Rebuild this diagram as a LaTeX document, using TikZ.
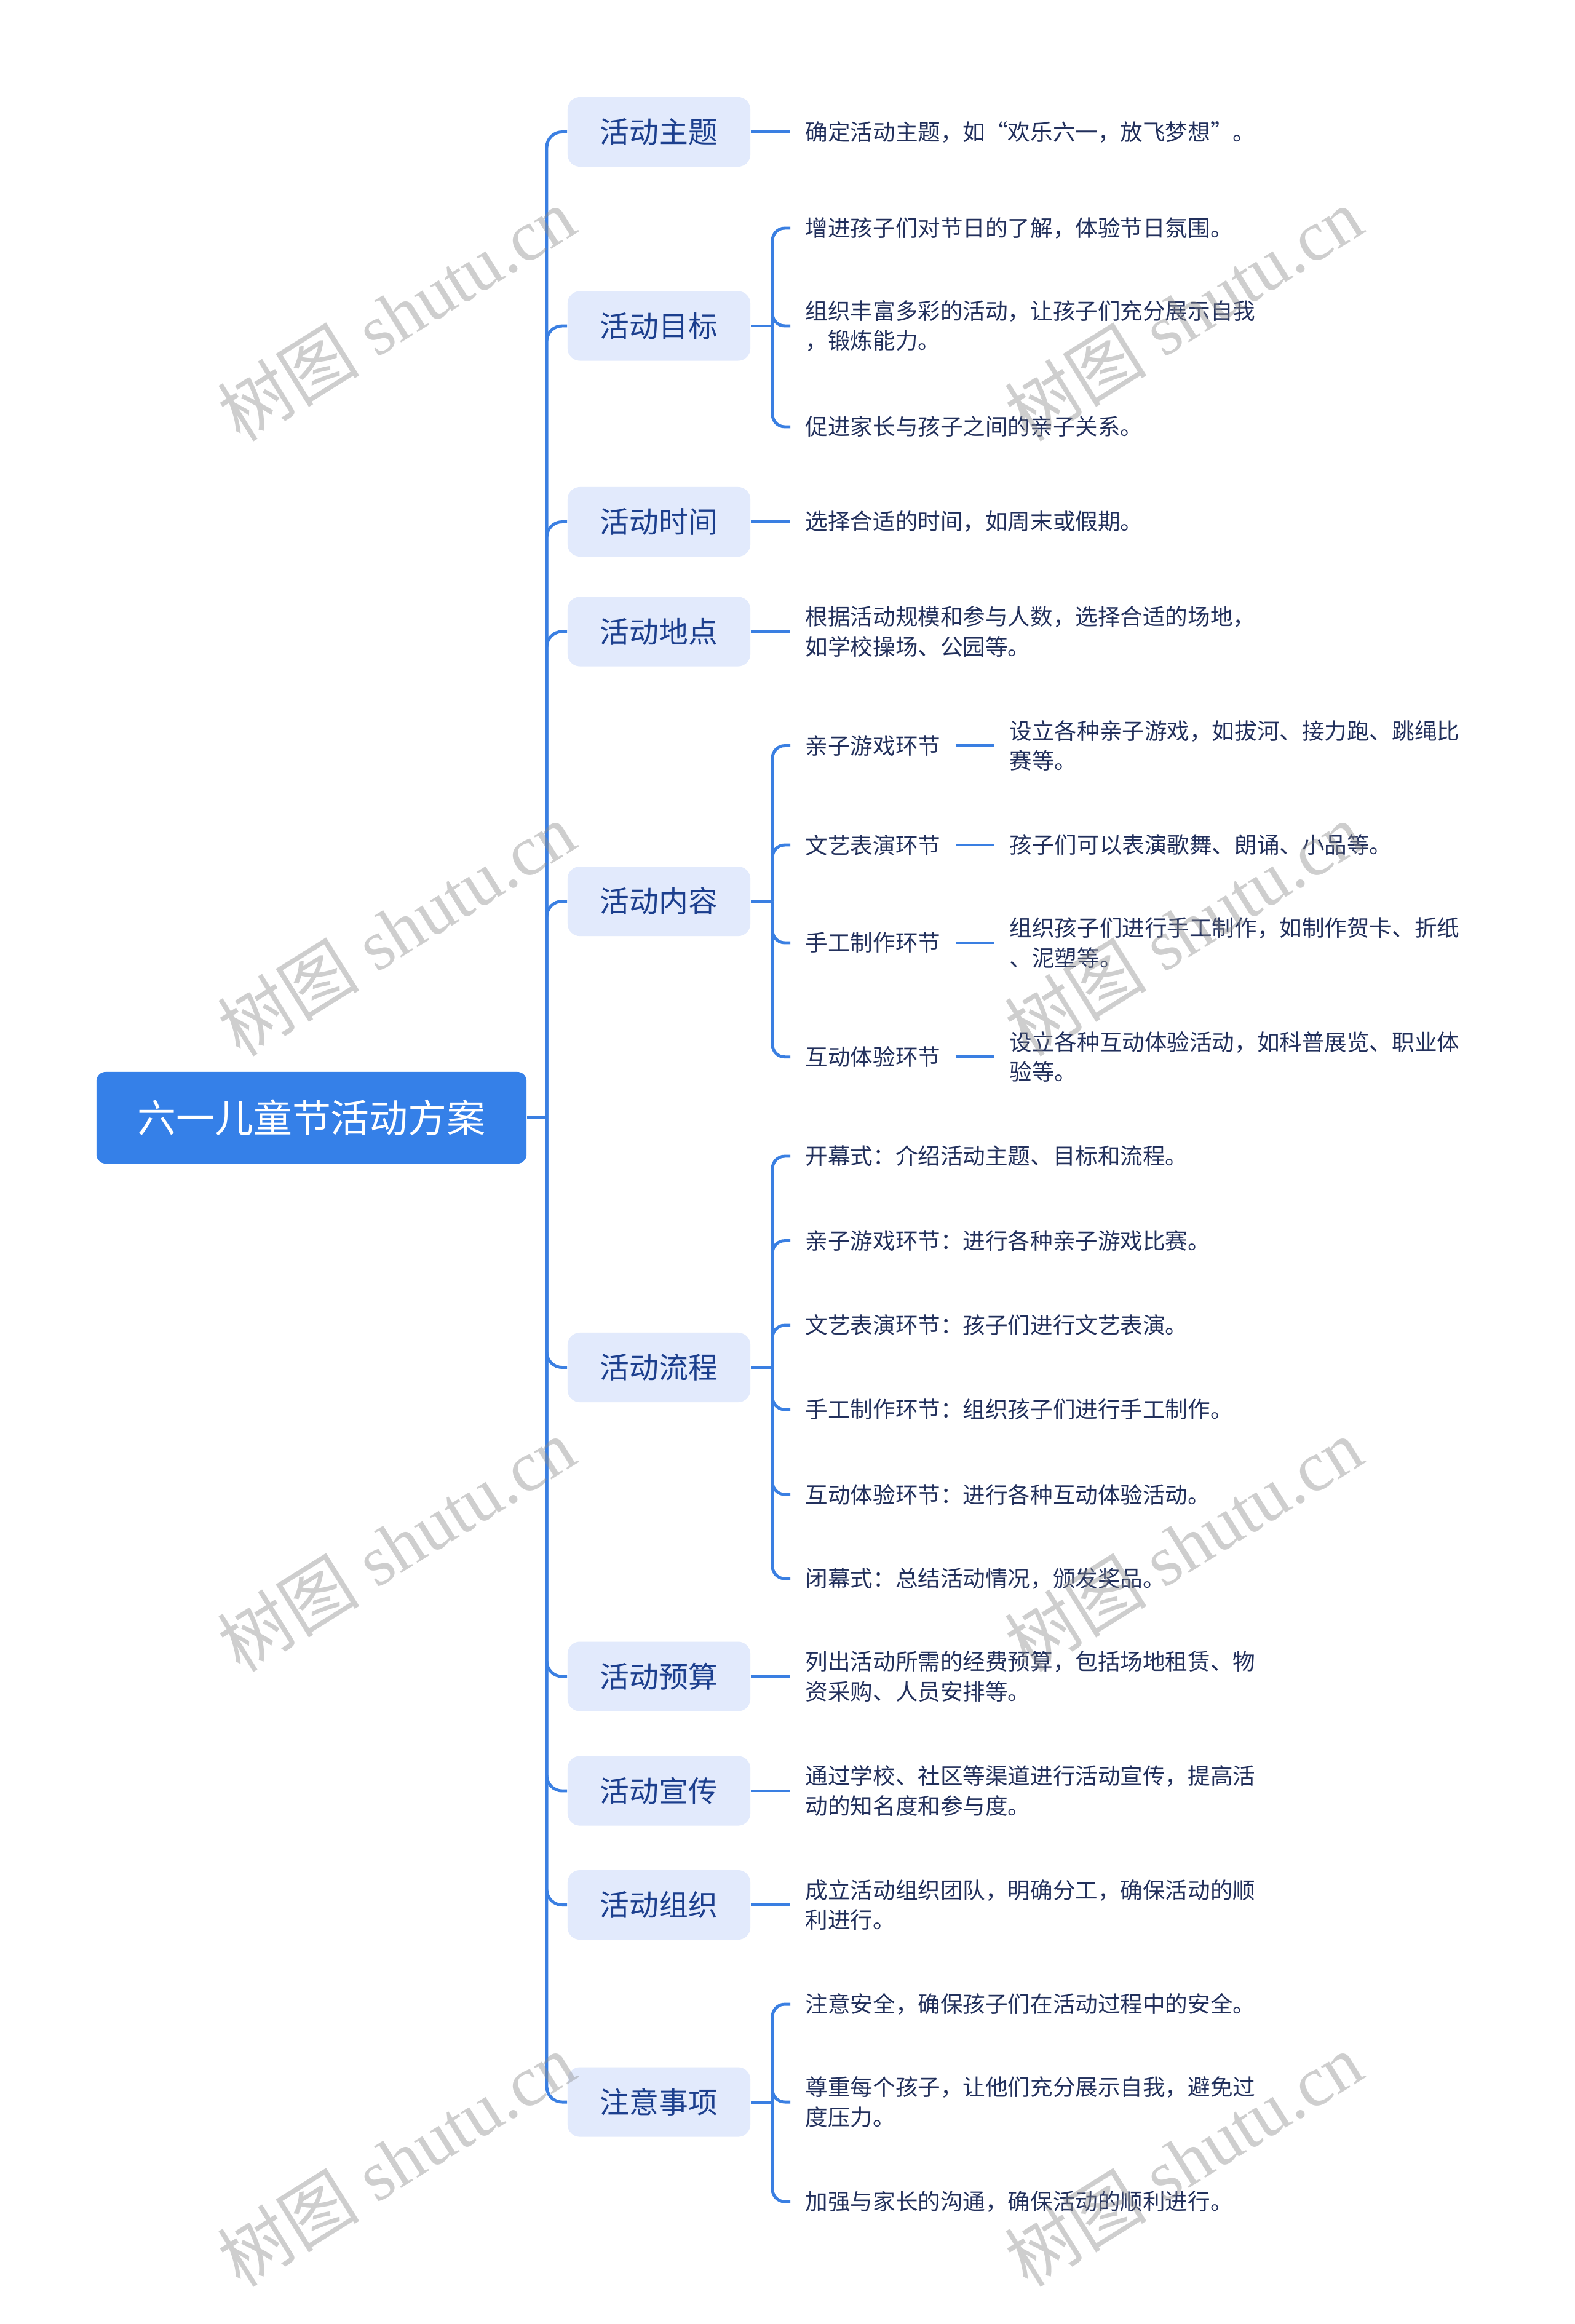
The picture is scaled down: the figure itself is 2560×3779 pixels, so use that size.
\documentclass[tikz,border=0pt]{standalone}
\usepackage{fontspec}
\setmainfont{Noto Sans CJK SC}
\newfontfamily\wmlat{Liberation Serif}
\newfontfamily\wmcjk{Noto Sans CJK SC}
\definecolor{rootblue}{HTML}{3580E8}
\definecolor{linec}{HTML}{3A7FE2}
\definecolor{brfill}{HTML}{E2EAFC}
\definecolor{brtext}{HTML}{1C3F8E}
\definecolor{leaftext}{HTML}{22305C}
\tikzset{
  x=0.01cm, y=-0.01cm,
  rootbox/.style={fill=rootblue, text=white, rounded corners=0.15cm,
    minimum width=6.99cm, minimum height=1.49cm, inner sep=0pt,
    font=\fontsize{17.9}{20}\selectfont},
  brbox/.style={fill=brfill, text=brtext, rounded corners=0.2cm,
    minimum width=2.97cm, minimum height=1.13cm, inner sep=0pt,
    font=\fontsize{13.6}{16}\selectfont},
  leafbox/.style={anchor=west, text=leaftext, align=left, inner xsep=0.24cm,
    inner ysep=2pt, font=\fontsize{10.4}{13.7}\selectfont},
  conn/.style={draw=linec, line width=1.4pt},
  mainarc/.style={conn, rounded corners=0.25cm},
  subarc/.style={conn, rounded corners=0.2cm},
  wm/.style={text=black!45, opacity=0.42, rotate=32, inner sep=0pt}
}
\begin{document}
\begin{tikzpicture}
\useasboundingbox (0,0) rectangle (2560,3779);
\fill[white] (0,0) rectangle (2560,3779);

% root
\node[rootbox] (root) at (506.5,1817.5) {六一儿童节活动方案};
\coordinate (rj) at (889,1817.5);

% level 1
\node[brbox] (b1) at (1071.5,214.5) {活动主题};
\node[brbox] (b2) at (1071.5,530) {活动目标};
\node[brbox] (b3) at (1071.5,848.5) {活动时间};
\node[brbox] (b4) at (1071.5,1027) {活动地点};
\node[brbox] (b5) at (1071.5,1465.6) {活动内容};
\node[brbox] (b6) at (1071.5,2223.5) {活动流程};
\node[brbox] (b7) at (1071.5,2726) {活动预算};
\node[brbox] (b8) at (1071.5,2912) {活动宣传};
\node[brbox] (b9) at (1071.5,3097.5) {活动组织};
\node[brbox] (b10) at (1071.5,3418) {注意事项};

\draw[conn] (root.east) -- (rj);
\foreach \b in {b1,b2,b3,b4,b5,b6,b7,b8,b9,b10}
  \draw[mainarc] (rj) |- (\b.west);

% leaves
\node[leafbox] (l1) at (1285,214.5) {确定活动主题，如“欢乐六一，放飞梦想”。};
\node[leafbox] (l2a) at (1285,371) {增进孩子们对节日的了解，体验节日氛围。};
\node[leafbox] (l2b) at (1285,530) {组织丰富多彩的活动，让孩子们充分展示自我\\，锻炼能力。};
\node[leafbox] (l2c) at (1285,694) {促进家长与孩子之间的亲子关系。};
\node[leafbox] (l3) at (1285,848.5) {选择合适的时间，如周末或假期。};
\node[leafbox] (l4) at (1285,1027) {根据活动规模和参与人数，选择合适的场地，\\如学校操场、公园等。};

\node[leafbox] (m1) at (1285,1212.5) {亲子游戏环节};
\node[leafbox] (m2) at (1285,1374) {文艺表演环节};
\node[leafbox] (m3) at (1285,1533) {手工制作环节};
\node[leafbox] (m4) at (1285,1718.7) {互动体验环节};
\node[leafbox] (s1) at (1617,1212.5) {设立各种亲子游戏，如拔河、接力跑、跳绳比\\赛等。};
\node[leafbox] (s2) at (1617,1374) {孩子们可以表演歌舞、朗诵、小品等。};
\node[leafbox] (s3) at (1617,1533) {组织孩子们进行手工制作，如制作贺卡、折纸\\、泥塑等。};
\node[leafbox] (s4) at (1617,1718.7) {设立各种互动体验活动，如科普展览、职业体\\验等。};

\node[leafbox] (l6a) at (1285,1880) {开幕式：介绍活动主题、目标和流程。};
\node[leafbox] (l6b) at (1285,2017.5) {亲子游戏环节：进行各种亲子游戏比赛。};
\node[leafbox] (l6c) at (1285,2155) {文艺表演环节：孩子们进行文艺表演。};
\node[leafbox] (l6d) at (1285,2292) {手工制作环节：组织孩子们进行手工制作。};
\node[leafbox] (l6e) at (1285,2430) {互动体验环节：进行各种互动体验活动。};
\node[leafbox] (l6f) at (1285,2567) {闭幕式：总结活动情况，颁发奖品。};

\node[leafbox] (l7) at (1285,2726) {列出活动所需的经费预算，包括场地租赁、物\\资采购、人员安排等。};
\node[leafbox] (l8) at (1285,2912) {通过学校、社区等渠道进行活动宣传，提高活\\动的知名度和参与度。};
\node[leafbox] (l9) at (1285,3097.5) {成立活动组织团队，明确分工，确保活动的顺\\利进行。};

\node[leafbox] (l10a) at (1285,3259) {注意安全，确保孩子们在活动过程中的安全。};
\node[leafbox] (l10b) at (1285,3418) {尊重每个孩子，让他们充分展示自我，避免过\\度压力。};
\node[leafbox] (l10c) at (1285,3580) {加强与家长的沟通，确保活动的顺利进行。};

% single-child connectors
\draw[conn] (b1.east) -- (l1.west);
\draw[conn] (b3.east) -- (l3.west);
\draw[conn] (b4.east) -- (l4.west);
\draw[conn] (b7.east) -- (l7.west);
\draw[conn] (b8.east) -- (l8.west);
\draw[conn] (b9.east) -- (l9.west);

% multi-child connectors
\coordinate (j2) at (1256,530);
\draw[conn] (b2.east) -- (j2);
\foreach \l in {l2a,l2b,l2c} \draw[subarc] (j2) |- (\l.west);

\coordinate (j5) at (1256,1465.6);
\draw[conn] (b5.east) -- (j5);
\foreach \l in {m1,m2,m3,m4} \draw[subarc] (j5) |- (\l.west);
\draw[conn] (m1.east) -- (s1.west);
\draw[conn] (m2.east) -- (s2.west);
\draw[conn] (m3.east) -- (s3.west);
\draw[conn] (m4.east) -- (s4.west);

\coordinate (j6) at (1256,2223.5);
\draw[conn] (b6.east) -- (j6);
\foreach \l in {l6a,l6b,l6c,l6d,l6e,l6f} \draw[subarc] (j6) |- (\l.west);

\coordinate (j10) at (1256,3418);
\draw[conn] (b10.east) -- (j10);
\foreach \l in {l10a,l10b,l10c} \draw[subarc] (j10) |- (\l.west);

% watermarks
\foreach \wx in {644,1924}
  \foreach \wy in {511,1511,2512,3512}
    \node[wm] (wm-\wx-\wy) at (\wx,\wy) {\fontsize{33}{38}\selectfont\wmcjk 树图\wmlat\ shutu.cn};
\end{tikzpicture}
\end{document}
